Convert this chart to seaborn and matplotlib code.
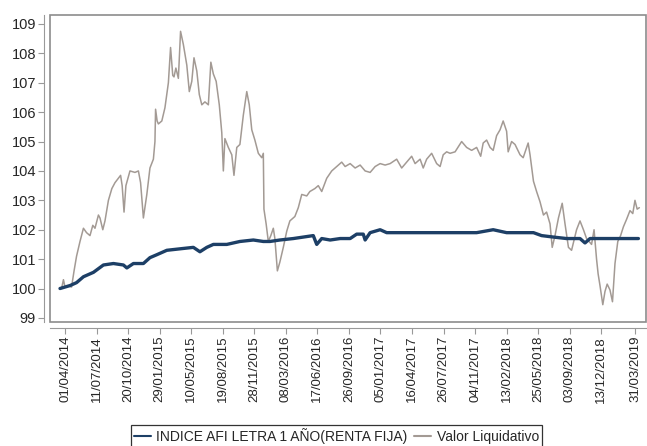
import pandas as pd
import numpy as np
import seaborn as sns
import matplotlib.pyplot as plt
import matplotlib.dates as mdates
from matplotlib.patches import Rectangle

start = pd.Timestamp("2014-04-01")

# valor liquidativo, days since 01/04/2014
vl_days = [-16, -11, -5, 0, 10, 21, 29, 37, 48, 59, 69, 80, 89, 96, 107, 112, 121, 128,
           139, 150, 160, 171, 178, 183, 189, 195, 208, 224, 235, 242, 251, 262, 272, 283,
           288, 290, 295, 299, 310, 320, 331, 338, 345, 349, 355, 363, 370, 379, 390, 398,
           406, 413, 422, 430, 438, 448, 459, 467, 475, 484, 494, 502, 507, 512, 523, 534,
           541, 550, 560, 571, 582, 590, 598, 608, 619, 630, 635, 637, 644, 651, 659, 667,
           672, 680, 688, 699, 710, 720, 736, 747, 758, 774, 784, 800, 811, 822, 838, 854,
           870, 886, 897, 913, 929, 945, 961, 977, 993, 1009, 1025, 1041, 1062, 1078, 1094,
           1110, 1121, 1137, 1147, 1158, 1174, 1190, 1201, 1211, 1222, 1233, 1249, 1270,
           1286, 1302, 1318, 1331, 1339, 1350, 1361, 1371, 1382, 1393, 1403, 1414, 1419,
           1430, 1441, 1457, 1467, 1483, 1489, 1500, 1510, 1521, 1532, 1542, 1553, 1560,
           1569, 1580, 1592, 1601, 1612, 1622, 1638, 1649, 1660, 1670, 1686, 1694, 1702,
           1707, 1713, 1722, 1729, 1736, 1745, 1753, 1761, 1770, 1779, 1788, 1798, 1809,
           1818, 1825, 1832, 1839]
vl_vals = [100.0, 100.0, 100.3, 100.05, 100.1, 100.05, 100.6, 101.1, 101.6, 102.05, 101.9,
           101.8, 102.15, 102.05, 102.5, 102.4, 102.0, 102.3, 103.0, 103.4, 103.6, 103.75,
           103.85, 103.5, 102.6, 103.5, 104.0, 103.95, 104.0, 103.6, 102.4, 103.2, 104.1,
           104.4, 105.0, 106.1, 105.7, 105.6, 105.7, 106.15, 107.0, 108.2, 107.25, 107.2,
           107.5, 107.15, 108.75, 108.3, 107.6, 106.7, 107.05, 107.85, 107.4, 106.6, 106.25,
           106.35, 106.25, 107.7, 107.3, 107.05, 106.25, 105.3, 104.0, 105.1, 104.8, 104.55,
           103.85, 104.8, 104.9, 105.9, 106.7, 106.25, 105.4, 105.05, 104.6, 104.45, 104.6,
           102.7, 102.2, 101.6, 101.8, 102.05, 101.7, 100.6, 100.9, 101.4, 101.95, 102.3,
           102.45, 102.75, 103.2, 103.15, 103.3, 103.4, 103.5, 103.3, 103.75, 104.0, 104.15,
           104.3, 104.15, 104.25, 104.1, 104.2, 104.0, 103.95, 104.15, 104.25, 104.2, 104.25,
           104.4, 104.1, 104.3, 104.5, 104.25, 104.4, 104.1, 104.4, 104.6, 104.25, 104.15,
           104.55, 104.65, 104.6, 104.65, 105.0, 104.8, 104.7, 104.8, 104.5, 104.95, 105.05,
           104.8, 104.7, 105.2, 105.4, 105.7, 105.35, 104.65, 105.0, 104.9, 104.55, 104.45,
           104.95, 104.55, 103.65, 103.3, 102.95, 102.5, 102.6, 102.2, 101.4, 101.8, 102.4,
           102.9, 102.2, 101.4, 101.3, 102.0, 102.3, 102.0, 101.7, 101.5, 102.0, 101.0,
           100.5, 100.1, 99.45, 99.9, 100.15, 99.95, 99.55, 100.85, 101.6, 101.8, 102.1,
           102.35, 102.65, 102.55, 103.0, 102.7, 102.75]

# indice AFI letra 1 año
idx_days = [-16, 0, 16, 37, 59, 91, 123, 155, 187, 198, 219, 251, 272, 294, 326, 368, 411,
            432, 454, 475, 518, 560, 603, 635, 656, 688, 731, 763, 795, 806, 822, 849, 881,
            913, 934, 955, 961, 977, 1009, 1030, 1083, 1137, 1190, 1265, 1318, 1371, 1414,
            1457, 1500, 1526, 1564, 1606, 1649, 1665, 1681, 1724, 1777, 1836]
idx_vals = [100.0, 100.05, 100.1, 100.2, 100.4, 100.55, 100.8, 100.85, 100.8, 100.7, 100.85,
            100.85, 101.05, 101.15, 101.3, 101.35, 101.4, 101.25, 101.4, 101.5, 101.5, 101.6,
            101.65, 101.6, 101.6, 101.65, 101.7, 101.75, 101.8, 101.5, 101.7, 101.65, 101.7,
            101.7, 101.85, 101.85, 101.65, 101.9, 102.0, 101.9, 101.9, 101.9, 101.9, 101.9,
            101.9, 102.0, 101.9, 101.9, 101.9, 101.8, 101.75, 101.7, 101.7, 101.55, 101.7,
            101.7, 101.7, 101.7]

tick_dates = ["01/04/2014", "11/07/2014", "20/10/2014", "29/01/2015", "10/05/2015",
              "19/08/2015", "28/11/2015", "08/03/2016", "17/06/2016", "26/09/2016",
              "05/01/2017", "16/04/2017", "26/07/2017", "04/11/2017", "13/02/2018",
              "25/05/2018", "03/09/2018", "13/12/2018", "31/03/2019"]

idx_name = "INDICE AFI LETRA 1 AÑO(RENTA FIJA)"
vl_name = "Valor Liquidativo"

vl = pd.DataFrame({"fecha": start + pd.to_timedelta(vl_days, unit="D"), "valor": vl_vals})
idx = pd.DataFrame({"fecha": start + pd.to_timedelta(idx_days, unit="D"), "valor": idx_vals})

sns.set_style("white")
plt.rcParams["font.family"] = ["Liberation Sans", "DejaVu Sans"]

fig = plt.figure(figsize=(6.47, 4.46), dpi=100)
ax = fig.add_axes([0.0773, 0.278, 0.921, 0.688])

sns.lineplot(data=vl, x="fecha", y="valor", ax=ax, color="#a39a94", lw=1.1, label=vl_name, zorder=2)
sns.lineplot(data=idx, x="fecha", y="valor", ax=ax, color="#1d3f66", lw=2.4, label=idx_name, zorder=3)

ax.set_xlim(pd.Timestamp("2014-02-12"), pd.Timestamp("2019-05-05"))
ax.set_ylim(98.86, 109.3)
ax.set_yticks(range(99, 110))
ax.set_xticks(pd.to_datetime(tick_dates, format="%d/%m/%Y"))
ax.xaxis.set_major_formatter(mdates.DateFormatter("%d/%m/%Y"))
ax.set_xlabel("")
ax.set_ylabel("")

for s in ["top", "right"]:
    ax.spines[s].set_visible(False)
for s in ["left", "bottom"]:
    ax.spines[s].set_position(("outward", 4))
    ax.spines[s].set_color("#999999")
    ax.spines[s].set_linewidth(0.8)
ax.add_patch(Rectangle((0, 0), 1, 1, transform=ax.transAxes, fill=False,
                       edgecolor="#8c8c8c", lw=1.2, clip_on=False, zorder=5))

ax.tick_params(axis="x", labelsize=9.5, rotation=90, length=4, color="#999999", pad=2, bottom=True)
ax.tick_params(axis="y", labelsize=10.5, length=4, color="#999999", pad=2, left=True)

ax.get_legend().remove()
h, l = ax.get_legend_handles_labels()
order = [l.index(idx_name), l.index(vl_name)]
leg = fig.legend([h[i] for i in order], [l[i] for i in order], loc="center",
                 bbox_to_anchor=(0.52, 0.023), ncol=2, fontsize=10, frameon=True,
                 fancybox=False, edgecolor="black", handlelength=1.2, handletextpad=0.4,
                 columnspacing=0.5, borderpad=0.2)
leg.get_frame().set_linewidth(0.9)
for line in leg.get_lines():
    line.set_linewidth(1.5)

fig.savefig("out.png", dpi=100)
